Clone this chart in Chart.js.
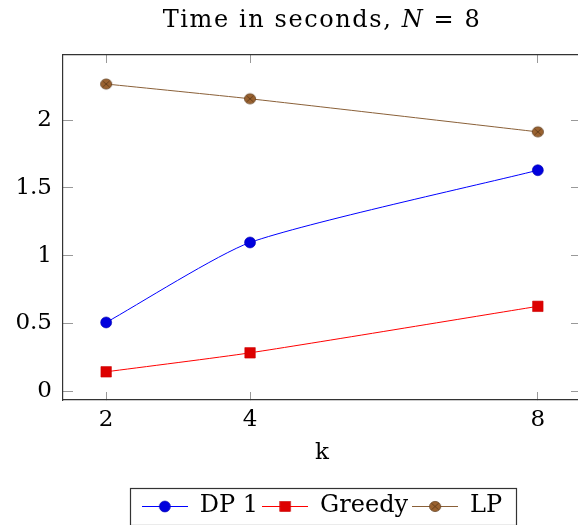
<!DOCTYPE html>
<html><head><meta charset="utf-8">
<script src="https://cdn.jsdelivr.net/npm/chart.js@4/dist/chart.umd.min.js"></script>
<style>html,body{margin:0;padding:0;overflow:hidden;background:#fff}#wrap{width:644px;height:528px}</style>
</head><body><div id="wrap"><canvas id="c" width="644" height="528"></canvas></div>
<script>
// ---- data ----
const kValues = [2, 4, 8];
const dp1 = [0.507, 1.097, 1.630];
const greedy = [0.143, 0.283, 0.626];
const lp = [2.266, 2.157, 1.913];
const xTicks = [2, 4, 8];
const yTicks = [0, 0.5, 1, 1.5, 2];
const seriesNames = ['DP 1', 'Greedy', 'LP'];
const xTitle = 'k';
const titleParts = [['Time in seconds, ', false], ['N', true], [' = 8', false]];

// ---- styles ----
const FONT = 'DejaVu Serif';
const FS = 23, LFS = 24, TFS = 24;
const BLUE_LINE = '#0000ff', BLUE_FILL = '#0000dd';
const RED_LINE = '#ff0000', RED_FILL = '#dd0000';
const BROWN_LINE = '#8a6038', BROWN_FILL = '#9a6230', BROWN_DARK = '#5a3818';

function drawMarker(ctx, type, cx, cy) {
  if (type === 'circle') {
    ctx.beginPath(); ctx.arc(cx, cy, 5.5, 0, Math.PI * 2);
    ctx.fillStyle = BLUE_FILL; ctx.fill();
    ctx.lineWidth = 0.6; ctx.strokeStyle = '#0000b0'; ctx.stroke();
  } else if (type === 'square') {
    ctx.fillStyle = RED_FILL; ctx.fillRect(cx - 5.3, cy - 5, 10.6, 10);
    ctx.lineWidth = 0.6; ctx.strokeStyle = '#cc0000'; ctx.strokeRect(cx - 5.3, cy - 5, 10.6, 10);
  } else {
    ctx.beginPath(); ctx.ellipse(cx, cy, 5.6, 5.1, 0, 0, Math.PI * 2);
    ctx.fillStyle = BROWN_FILL; ctx.fill();
    ctx.lineWidth = 0.7; ctx.strokeStyle = BROWN_DARK; ctx.stroke();
    ctx.beginPath();
    const d = 3.6;
    ctx.moveTo(cx - d, cy - d * 0.9); ctx.lineTo(cx + d, cy + d * 0.9);
    ctx.moveTo(cx - d, cy + d * 0.9); ctx.lineTo(cx + d, cy - d * 0.9);
    ctx.lineWidth = 0.8; ctx.strokeStyle = BROWN_DARK; ctx.stroke();
  }
}
function markerImage(type) {
  const c = document.createElement('canvas'); c.width = 14; c.height = 14;
  drawMarker(c.getContext('2d'), type, 7, 7);
  return c;
}
function legendImage(type, lineColor) {
  const c = document.createElement('canvas'); c.width = 46; c.height = 14;
  const g = c.getContext('2d');
  g.beginPath(); g.moveTo(0, 7.5); g.lineTo(46, 7.5);
  g.strokeStyle = lineColor; g.lineWidth = 1; g.stroke();
  drawMarker(g, type, 23, 7.5);
  return c;
}
const brownMarker = markerImage('otimes');
const legendImgs = [legendImage('circle', BLUE_LINE), legendImage('square', RED_LINE), legendImage('otimes', BROWN_LINE)];

const pts = (ys) => kValues.map((k, i) => ({x: k, y: ys[i]}));

const titlePlugin = {
  id: 'mixedTitle',
  afterDraw(chart) {
    const ctx = chart.ctx, ca = chart.chartArea;
    ctx.save();
    ctx.fillStyle = '#000'; ctx.textBaseline = 'middle';
    try { ctx.letterSpacing = '1.6px'; } catch (e) {}
    const fonts = titleParts.map(p => (p[1] ? 'italic ' : '') + TFS + 'px "' + FONT + '"');
    let total = 0;
    const widths = titleParts.map((p, i) => { ctx.font = fonts[i]; const w = ctx.measureText(p[0]).width; total += w; return w; });
    let x = (ca.left + ca.right) / 2 - total / 2;
    titleParts.forEach((p, i) => { ctx.font = fonts[i]; ctx.textAlign = 'left'; ctx.fillText(p[0], x, 21); x += widths[i]; });
    ctx.restore();
  }
};
const legendBoxPlugin = {
  id: 'legendBox',
  afterDraw(chart) {
    const lg = chart.legend; if (!lg || !lg.legendHitBoxes || !lg.legendHitBoxes.length) return;
    const hb = lg.legendHitBoxes;
    const left = hb[0].left - 12, right = hb[hb.length - 1].left + hb[hb.length - 1].width + 14;
    const cy = hb[0].top + hb[0].height / 2;
    const ctx = chart.ctx; ctx.save();
    ctx.strokeStyle = '#333'; ctx.lineWidth = 1.2;
    ctx.strokeRect(Math.round(left) + 0.5, Math.round(cy - 18.5) + 0.5, Math.round(right - left), 37);
    ctx.restore();
  }
};

const gridX = { drawOnChartArea: false, drawTicks: true, tickLength: -8, color: '#999', lineWidth: 1 };
const gridY = { drawOnChartArea: false, drawTicks: true, tickLength: -10, color: '#999', lineWidth: 1 };
const borderCommon = { color: '#333', width: 1.2 };
const tickFont = { family: FONT, size: FS };
const setTicks = (vals) => (s) => { s.ticks = vals.map(v => ({value: v})); };

new Chart(document.getElementById('c'), {
  type: 'line',
  data: {
    datasets: [
      { label: seriesNames[0], data: pts(dp1), borderColor: BLUE_LINE, backgroundColor: BLUE_FILL, borderWidth: 1,
        pointStyle: 'circle', pointRadius: 5.5, pointBorderColor: '#0000b0', pointBorderWidth: 0.6, tension: 0.2 },
      { label: seriesNames[1], data: pts(greedy), borderColor: RED_LINE, backgroundColor: RED_FILL, borderWidth: 1,
        pointStyle: 'rect', pointRadius: 7.4, pointBorderColor: '#cc0000', pointBorderWidth: 0.6, tension: 0.2 },
      { label: seriesNames[2], data: pts(lp), borderColor: BROWN_LINE, backgroundColor: BROWN_FILL, borderWidth: 1,
        pointStyle: brownMarker, pointRadius: 6, tension: 0.2 }
    ]
  },
  options: {
    responsive: false, animation: false, devicePixelRatio: 1,
    layout: { padding: 0 },
    scales: {
      x: { type: 'linear', position: 'bottom', min: 1.4, max: 8.6,
        afterBuildTicks: setTicks(xTicks), afterFit: (s) => { s.height = 90; },
        grid: gridX, border: borderCommon,
        ticks: { font: tickFont, color: '#000', padding: 14, maxRotation: 0, callback: (v) => String(v) },
        title: { display: true, text: xTitle, font: tickFont, color: '#000', padding: { top: 0, bottom: 23 } } },
      x2: { type: 'linear', position: 'top', min: 1.4, max: 8.6,
        afterBuildTicks: setTicks(xTicks), afterFit: (s) => { s.height = 55; },
        grid: gridX, border: borderCommon, ticks: { display: false } },
      y: { type: 'linear', position: 'left', min: -0.065, max: 2.48,
        afterBuildTicks: setTicks(yTicks), afterFit: (s) => { s.width = 63; },
        grid: gridY, border: borderCommon,
        ticks: { font: tickFont, color: '#000', padding: 21, callback: (v) => String(v) } },
      y2: { type: 'linear', position: 'right', min: -0.065, max: 2.48,
        afterBuildTicks: setTicks(yTicks), afterFit: (s) => { s.width = 63; },
        grid: gridY, border: borderCommon, ticks: { display: false } }
    },
    plugins: {
      title: { display: false },
      tooltip: { enabled: false },
      legend: {
        position: 'bottom', align: 'center',
        labels: {
          usePointStyle: true, pointStyleWidth: 46, padding: 4,
          font: { family: FONT, size: LFS }, color: '#000',
          generateLabels: () => seriesNames.map((n, i) => ({
            text: n, pointStyle: legendImgs[i], fillStyle: 'transparent', strokeStyle: 'transparent',
            lineWidth: 0, hidden: false, datasetIndex: i, fontColor: '#000'
          }))
        }
      }
    }
  },
  plugins: [titlePlugin, legendBoxPlugin]
});
</script>
</body></html>
